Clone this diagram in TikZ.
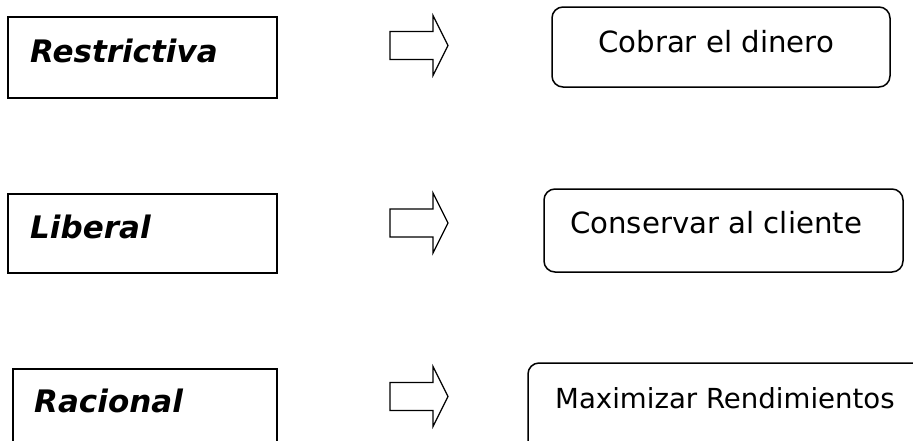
\documentclass[tikz,border=0pt]{standalone}
\usepackage{fontspec}
\setmainfont{DejaVu Sans}
\begin{document}
\begin{tikzpicture}[x=1pt,y=-1pt,
  leftbox/.style={draw=black, line width=1.5pt, rectangle, inner sep=0pt, outer sep=0pt, anchor=north west},
  rightbox/.style={draw=black, line width=1.5pt, rounded corners=11pt},
  kind/.style={anchor=base west, inner sep=0pt, font=\fontsize{31}{36}\selectfont\bfseries\itshape},
  goal/.style={anchor=base west, inner sep=0pt, font=\fontsize{29.2}{34}\selectfont},
  arrowline/.style={draw=black, line width=1.2pt, fill=white, line join=miter},
  pics/rarrow/.style={code={
    \draw[arrowline] (0,-14) -- (43,-14) -- (43,-30) -- (58,0) -- (43,30) -- (43,14) -- (0,14) -- cycle;}}
]
\useasboundingbox (0,0) rectangle (913,440);
\clip (0,0) rectangle (913,440);

% left column: policy kinds
\node[leftbox, minimum width=269pt, minimum height=81pt] (k1) at (8,17) {};
\node[leftbox, minimum width=269pt, minimum height=79pt] (k2) at (8,194) {};
\node[leftbox, minimum width=264pt, minimum height=90pt] (k3) at (13,369) {};
\node[kind] (tk1) at (30,62) {Restrictiva};
\node[kind] (tk2) at (30,238) {Liberal};
\node[kind] (tk3) at (34,412) {Racional};

% block arrows
\pic at (390,45.5) {rarrow};
\pic at (390,223) {rarrow};
\pic at (390,396.5) {rarrow};

% right column: goals
\draw[rightbox] (552,7) rectangle (890,87);
\draw[rightbox] (544,189) rectangle (903,272);
\draw[rightbox] (528,363) rectangle (950,480);
\coordinate (g1) at (598,52);
\coordinate (g2) at (570,233);
\coordinate (g3) at (555,408);
\node[goal] (tg1) at (g1) {Cobrar el dinero};
\node[goal] (tg2) at (g2) {Conservar al cliente};
\node[goal, font=\fontsize{27.6}{33}\selectfont] (tg3) at (g3) {Maximizar Rendimientos};
\end{tikzpicture}
\end{document}
